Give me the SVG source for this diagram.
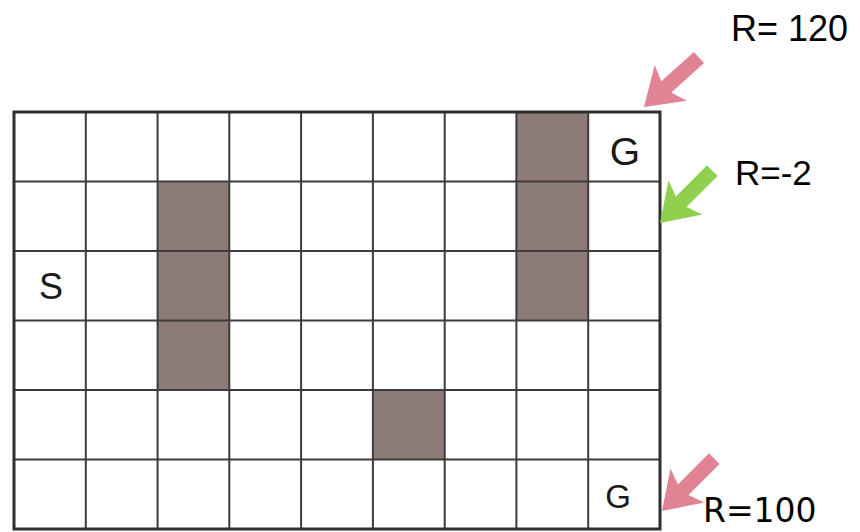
<svg xmlns="http://www.w3.org/2000/svg" width="860" height="532" viewBox="0 0 860 532">
<style>
.wall{fill:#8c7b76;}
.grid{stroke:#3c3c3c;stroke-width:2;fill:none;}
.border{stroke:#2e2e2e;stroke-width:3;fill:none;}
.lbl{font-family:"Liberation Sans",Arial,sans-serif;fill:#1a1a1a;text-anchor:middle;}
.rt{font-family:"Liberation Sans",Arial,sans-serif;fill:#000;}
.pink{fill:#e08494;}
.green{fill:#8fd14f;}
</style>
<defs>
<polygon id="arr" points="0,0 36,-24 30,-7.5 74,-7.5 74,7.5 30,7.5 36,24"/>
</defs>
<rect width="860" height="532" fill="#fff"/>
<g id="walls">
<rect class="wall" x="157.6" y="181.5" width="71.7" height="208.5"/>
<rect class="wall" x="516.4" y="112" width="71.8" height="208.5"/>
<rect class="wall" x="372.9" y="390" width="71.8" height="69.5"/>
</g>
<g id="grid">
<path class="grid" d="M85.8 112V529M157.6 112V529M229.3 112V529M301.1 112V529M372.9 112V529M444.7 112V529M516.4 112V529M588.2 112V529M14 181.5H660M14 251H660M14 320.5H660M14 390H660M14 459.5H660"/>
<rect class="border" x="14" y="112" width="646" height="417"/>
</g>
<g id="goal-top"><text class="lbl" x="625" y="165" font-size="39">G</text></g>
<g id="start"><text class="lbl" x="51" y="299" font-size="36">S</text></g>
<g id="goal-bottom"><text class="lbl" x="618" y="508" font-size="33">G</text></g>
<g id="connectors">
<use href="#arr" class="pink" transform="translate(644,107) rotate(-42)"/>
<use href="#arr" class="green" transform="translate(660,223) rotate(-45)"/>
<use href="#arr" class="pink" transform="translate(662,511) rotate(-45)"/>
</g>
<g id="reward-labels">
<text class="rt" x="731" y="41" font-size="36">R= 120</text>
<text class="rt" x="735" y="185" font-size="35">R=-2</text>
<text x="703" y="522" font-size="33" font-family="'DejaVu Sans',sans-serif" fill="#000">R=100</text>
</g>
</svg>
